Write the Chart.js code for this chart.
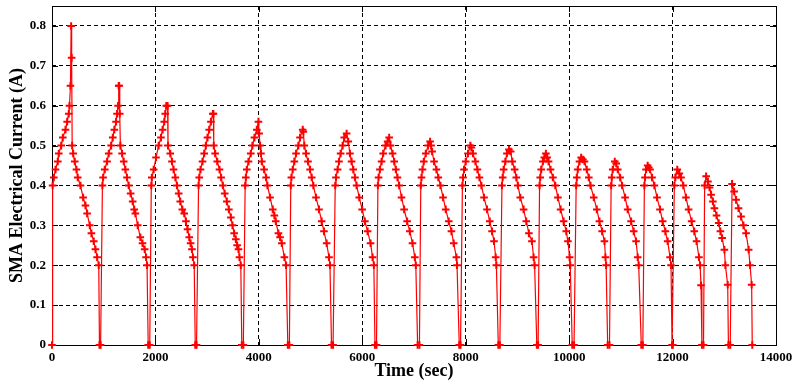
<!DOCTYPE html>
<html>
<head>
<meta charset="utf-8">
<script src="https://cdn.jsdelivr.net/npm/chart.js@4/dist/chart.umd.min.js"></script>
<style>
  html, body { margin: 0; padding: 0; background: #fff; }
  #wrap { width: 798px; height: 391px; }
</style>
</head>
<body>
<div id="wrap"><canvas id="smaChart" width="798" height="391"></canvas></div>
<script>
// time (sec), one line per heating cycle
var timeSec = [
  0, 12, 35, 68, 112, 131, 178, 209, 261, 293, 324, 338, 357, 370, 380, 390, 409, 440, 473, 498, 550, 602, 647, 679, 730, 762, 807, 840, 872, 904, 918, 940,
  975, 988, 1020, 1065, 1097, 1143, 1175, 1206, 1239, 1258, 1278, 1290, 1298, 1310, 1322, 1355, 1387, 1419, 1450, 1483, 1520, 1560, 1590, 1612, 1657, 1708, 1750, 1792, 1819, 1838, 1860, 1890,
  1920, 1930, 1966, 2011, 2062, 2107, 2139, 2171, 2190, 2210, 2235, 2243, 2287, 2320, 2351, 2385, 2416, 2450, 2480, 2520, 2557, 2590, 2621, 2654, 2680, 2706, 2725, 2750, 2770, 2795,
  2834, 2847, 2872, 2910, 2943, 2976, 3007, 3040, 3073, 3111, 3120, 3128, 3155, 3195, 3239, 3270, 3304, 3340, 3381, 3420, 3459, 3490, 3522, 3555, 3580, 3606, 3625, 3651, 3670, 3700,
  3735, 3748, 3767, 3799, 3844, 3876, 3915, 3960, 3992, 4005, 4024, 4040, 4057, 4101, 4140, 4165, 4217, 4269, 4300, 4327, 4378, 4410, 4443, 4494, 4526, 4560, 4590,
  4617, 4629, 4655, 4686, 4719, 4764, 4796, 4848, 4860, 4879, 4912, 4950, 4990, 5022, 5053, 5105, 5163, 5215, 5259, 5311, 5356, 5375, 5405, 5435,
  5477, 5491, 5523, 5549, 5581, 5620, 5651, 5697, 5729, 5761, 5793, 5825, 5858, 5890, 5941, 5998, 6050, 6103, 6160, 6199, 6224, 6245, 6275,
  6302, 6315, 6340, 6373, 6404, 6450, 6490, 6520, 6545, 6585, 6617, 6649, 6680, 6713, 6759, 6809, 6867, 6919, 6971, 7016, 7035, 7070, 7105,
  7131, 7145, 7164, 7189, 7228, 7273, 7311, 7330, 7350, 7388, 7434, 7470, 7511, 7562, 7614, 7672, 7724, 7768, 7820, 7832, 7875, 7900,
  7936, 7948, 7967, 8000, 8044, 8090, 8110, 8141, 8187, 8226, 8265, 8303, 8354, 8412, 8465, 8509, 8547, 8580, 8593, 8630, 8660,
  8701, 8715, 8733, 8766, 8797, 8836, 8870, 8901, 8946, 8978, 9009, 9055, 9119, 9171, 9222, 9280, 9313, 9332, 9375, 9400,
  9428, 9441, 9460, 9493, 9520, 9550, 9575, 9602, 9640, 9686, 9732, 9783, 9835, 9893, 9944, 9976, 10009, 10021, 10060, 10095,
  10136, 10148, 10167, 10200, 10232, 10265, 10297, 10341, 10380, 10413, 10476, 10535, 10586, 10638, 10683, 10702, 10715, 10745, 10780,
  10812, 10824, 10843, 10882, 10910, 10940, 10986, 11024, 11082, 11132, 11198, 11248, 11294, 11326, 11345, 11395, 11425,
  11455, 11467, 11487, 11518, 11540, 11564, 11603, 11648, 11699, 11757, 11808, 11860, 11905, 11951, 11970, 11990, 12005,
  12034, 12053, 12091, 12130, 12163, 12207, 12259, 12310, 12368, 12420, 12464, 12510, 12532, 12550, 12567, 12598,
  12620, 12649, 12684, 12715, 12745, 12780, 12809, 12850, 12892, 12925, 12958, 13002, 13021, 13066, 13080, 13115,
  13151, 13190, 13228, 13275, 13324, 13370, 13421, 13471, 13498, 13529, 13541
];

// SMA electrical current (A), same layout as timeSec
var currentA = [
  0, 0.40, 0.42, 0.44, 0.46, 0.48, 0.50, 0.52, 0.54, 0.56, 0.58, 0.60, 0.65, 0.80, 0.72, 0.50, 0.48, 0.46, 0.44, 0.42, 0.40, 0.37, 0.35, 0.33, 0.30, 0.28, 0.26, 0.24, 0.22, 0.20, 0, 0,
  0.40, 0.42, 0.44, 0.46, 0.48, 0.50, 0.52, 0.54, 0.56, 0.58, 0.60, 0.65, 0.65, 0.58, 0.50, 0.48, 0.46, 0.44, 0.42, 0.40, 0.38, 0.36, 0.34, 0.33, 0.30, 0.27, 0.255, 0.24, 0.22, 0.20, 0, 0,
  0.40, 0.42, 0.44, 0.47, 0.50, 0.52, 0.54, 0.56, 0.58, 0.60, 0.60, 0.50, 0.48, 0.46, 0.44, 0.42, 0.40, 0.38, 0.36, 0.34, 0.33, 0.31, 0.29, 0.27, 0.255, 0.24, 0.22, 0.20, 0, 0,
  0.40, 0.42, 0.44, 0.46, 0.48, 0.50, 0.52, 0.54, 0.56, 0.58, 0.58, 0.50, 0.48, 0.46, 0.44, 0.42, 0.40, 0.38, 0.36, 0.34, 0.32, 0.30, 0.28, 0.265, 0.25, 0.24, 0.22, 0.20, 0, 0,
  0.40, 0.42, 0.44, 0.46, 0.48, 0.50, 0.52, 0.54, 0.56, 0.53, 0.50, 0.48, 0.46, 0.44, 0.42, 0.40, 0.37, 0.34, 0.325, 0.31, 0.28, 0.27, 0.255, 0.22, 0.20, 0, 0,
  0.40, 0.42, 0.44, 0.46, 0.48, 0.50, 0.52, 0.54, 0.535, 0.50, 0.48, 0.46, 0.44, 0.42, 0.40, 0.37, 0.34, 0.31, 0.285, 0.255, 0.22, 0.20, 0, 0,
  0.40, 0.42, 0.44, 0.46, 0.48, 0.50, 0.52, 0.53, 0.51, 0.48, 0.46, 0.44, 0.42, 0.40, 0.37, 0.34, 0.31, 0.285, 0.255, 0.22, 0.20, 0, 0,
  0.40, 0.42, 0.44, 0.46, 0.48, 0.50, 0.51, 0.52, 0.50, 0.48, 0.46, 0.44, 0.42, 0.40, 0.37, 0.34, 0.31, 0.285, 0.255, 0.22, 0.20, 0, 0,
  0.40, 0.42, 0.44, 0.46, 0.48, 0.50, 0.51, 0.50, 0.485, 0.46, 0.44, 0.42, 0.40, 0.37, 0.34, 0.31, 0.285, 0.255, 0.22, 0.20, 0, 0,
  0.40, 0.42, 0.44, 0.46, 0.48, 0.50, 0.495, 0.48, 0.46, 0.44, 0.42, 0.40, 0.37, 0.34, 0.31, 0.285, 0.26, 0.22, 0.20, 0, 0,
  0.40, 0.42, 0.44, 0.46, 0.48, 0.49, 0.485, 0.46, 0.44, 0.42, 0.40, 0.37, 0.34, 0.31, 0.28, 0.26, 0.22, 0.20, 0, 0,
  0.40, 0.42, 0.44, 0.46, 0.47, 0.48, 0.47, 0.46, 0.44, 0.42, 0.40, 0.37, 0.34, 0.31, 0.285, 0.26, 0.22, 0.20, 0, 0,
  0.40, 0.42, 0.44, 0.46, 0.47, 0.465, 0.46, 0.44, 0.42, 0.40, 0.37, 0.34, 0.31, 0.285, 0.26, 0.22, 0.20, 0, 0,
  0.40, 0.42, 0.44, 0.46, 0.455, 0.44, 0.42, 0.40, 0.37, 0.34, 0.31, 0.285, 0.26, 0.22, 0.20, 0, 0,
  0.40, 0.42, 0.44, 0.45, 0.445, 0.44, 0.42, 0.40, 0.37, 0.34, 0.31, 0.285, 0.26, 0.22, 0.20, 0, 0,
  0.40, 0.42, 0.44, 0.43, 0.42, 0.40, 0.37, 0.34, 0.31, 0.285, 0.26, 0.22, 0.20, 0.15, 0, 0,
  0.40, 0.423, 0.41, 0.395, 0.377, 0.36, 0.343, 0.325, 0.306, 0.285, 0.268, 0.239, 0.20, 0.151, 0, 0,
  0.404, 0.385, 0.364, 0.343, 0.322, 0.30, 0.28, 0.239, 0.20, 0.151, 0
];

var xTitle = 'Time (sec)';
var yTitle = 'SMA Electrical Current (A)';

var points = timeSec.map(function (t, i) { return { x: t, y: currentA[i] }; });

var serif = "'Liberation Serif', 'Times New Roman', serif";

// matlab style box with inward ticks
const boxTicks = {
  id: 'boxTicks',
  beforeDatasetsDraw(chart) {
    const ctx = chart.ctx, a = chart.chartArea;
    const xs = chart.scales.x, ys = chart.scales.y;
    const len = 6;
    ctx.save();
    ctx.strokeStyle = '#000';
    ctx.lineWidth = 1;
    ctx.setLineDash([]);
    ctx.strokeRect(Math.round(a.left) + 0.5, Math.round(a.top) + 0.5,
      Math.round(a.right) - Math.round(a.left), Math.round(a.bottom) - Math.round(a.top));
    ctx.beginPath();
    xs.ticks.forEach(function (t) {
      const px = Math.round(xs.getPixelForValue(t.value)) + 0.5;
      ctx.moveTo(px, a.bottom); ctx.lineTo(px, a.bottom - len);
      ctx.moveTo(px, a.top); ctx.lineTo(px, a.top + len);
    });
    ys.ticks.forEach(function (t) {
      const py = Math.round(ys.getPixelForValue(t.value)) + 0.5;
      ctx.moveTo(a.left, py); ctx.lineTo(a.left + len, py);
      ctx.moveTo(a.right, py); ctx.lineTo(a.right - len, py);
    });
    ctx.stroke();
    ctx.restore();
  }
};

new Chart(document.getElementById('smaChart'), {
  type: 'scatter',
  data: {
    datasets: [{
      data: points,
      showLine: true,
      borderColor: '#ff0000',
      borderWidth: 1.2,
      pointStyle: 'cross',
      pointRadius: 3.8,
      pointBorderWidth: 2,
      pointBorderColor: '#ff0000',
      pointBackgroundColor: '#ff0000',
      clip: 6,
    }]
  },
  options: {
    responsive: false,
    animation: false,
    events: [],
    layout: { padding: { top: 6, right: 22, left: 0, bottom: 0 } },
    plugins: {
      legend: { display: false },
      tooltip: { enabled: false }
    },
    scales: {
      x: {
        type: 'linear',
        min: 0,
        max: 14000,
        afterFit: function (s) { s.height = 46; },
        grid: { color: '#000', lineWidth: 1, drawTicks: false },
        border: { display: false, dash: [4, 3] },
        ticks: {
          stepSize: 2000,
          padding: 5,
          color: '#000',
          maxRotation: 0,
          font: { family: serif, size: 13, weight: 'bold' },
          callback: function (v) { return String(v); }
        },
        title: {
          display: true,
          text: xTitle,
          color: '#000',
          padding: { top: 0, bottom: 9 },
          font: { family: serif, size: 18, weight: 'bold' }
        }
      },
      y: {
        min: 0,
        max: 0.85,
        afterFit: function (s) { s.width = 52; s.paddingTop = 0; s.paddingBottom = 0; },
        grid: { color: '#000', lineWidth: 1, drawTicks: false },
        border: { display: false, dash: [4, 3] },
        ticks: {
          stepSize: 0.1,
          includeBounds: false,
          padding: 6,
          color: '#000',
          font: { family: serif, size: 13, weight: 'bold' },
          callback: function (v) { return v === 0 ? '0' : v.toFixed(1); }
        },
        title: {
          display: true,
          text: yTitle,
          color: '#000',
          padding: { top: 7, bottom: 0 },
          font: { family: serif, size: 18, weight: 'bold' }
        }
      }
    }
  },
  plugins: [boxTicks]
});
</script>
</body>
</html>
